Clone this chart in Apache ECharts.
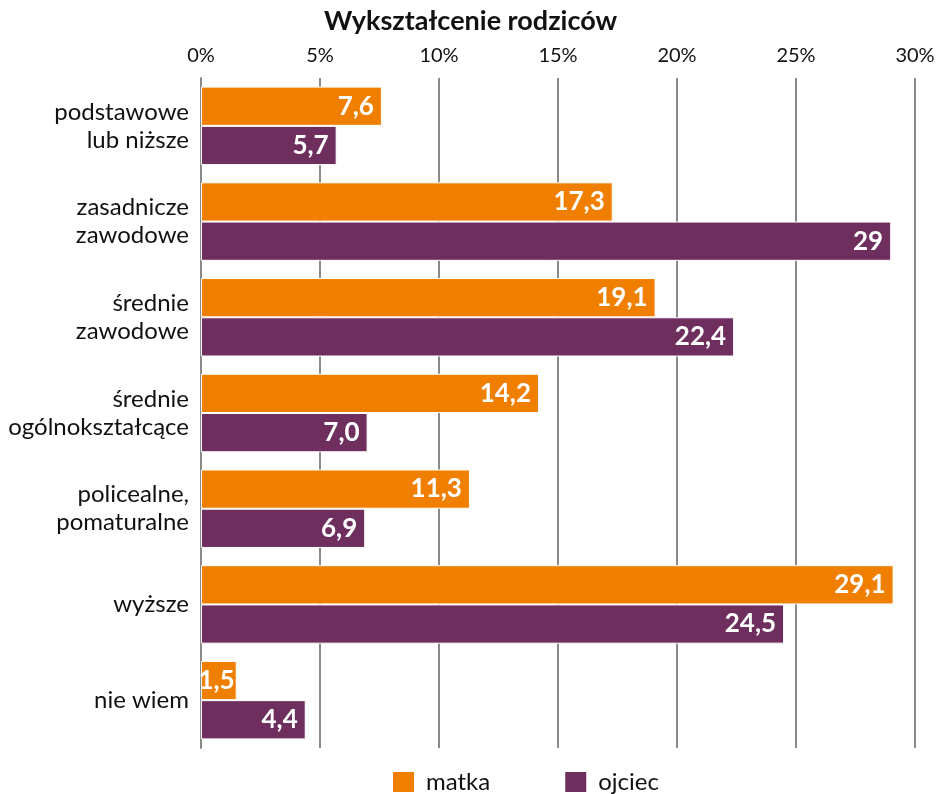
<!DOCTYPE html>
<html>
<head>
<meta charset="utf-8">
<script src="https://cdn.jsdelivr.net/npm/echarts@6/dist/echarts.min.js"></script>
<style>
html,body{margin:0;padding:0;background:#fff;}
#main{width:941px;height:794px;}
</style>
</head>
<body>
<div id="main"></div>
<script>
// dane
var categories = ['podstawowe\nlub niższe', 'zasadnicze\nzawodowe', 'średnie\nzawodowe', 'średnie\nogólnokształcące', 'policealne,\npomaturalne', 'wyższe', 'nie wiem'];
var matka = [7.6, 17.3, 19.1, 14.2, 11.3, 29.1, 1.5];
var ojciec = [5.7, 29, 22.4, 7.0, 6.9, 24.5, 4.4];
var matkaLabels = ['7,6', '17,3', '19,1', '14,2', '11,3', '29,1', '1,5'];
var ojciecLabels = ['5,7', '29', '22,4', '7,0', '6,9', '24,5', '4,4'];

var fontFam = 'Lato, "Open Sans", sans-serif';
var myChart = echarts.init(document.getElementById('main'));

// krotkie slupki - etykieta blizej krawedzi
function barData(arr){
	return arr.map(function(v){
		return v < 3 ? { value: v, label: { distance: 2 } } : v;
	});
}

function barLabel(arr){
	return {
		show: true,
		position: 'insideRight',
		distance: 8,
		color: '#fff',
		fontFamily: fontFam,
		fontWeight: 'bold',
		fontSize: 26,
		formatter: function(p){ return arr[p.dataIndex]; }
	};
}

var option = {
	animation: false,
	title: {
		text: 'Wykształcenie rodziców',
		left: 'center',
		top: 3,
		textStyle: { fontFamily: fontFam, fontWeight: 'bold', fontSize: 27, color: '#111' }
	},
	legend: {
		bottom: -5,
		left: 386,
		itemWidth: 23,
		itemHeight: 22,
		itemGap: 73,
		icon: 'rect',
		textStyle: { fontFamily: fontFam, fontSize: 24, color: '#111', padding: [0, 0, 0, 6] },
		data: ['matka', 'ojciec']
	},
	grid: { left: 201, right: 26, top: 78, bottom: 46 },
	xAxis: {
		type: 'value',
		position: 'top',
		min: 0,
		max: 30,
		interval: 5,
		axisLabel: {
			formatter: '{value}%',
			fontFamily: fontFam,
			fontSize: 20,
			color: '#111',
			margin: 12
		},
		axisLine: { show: false },
		axisTick: { show: false },
		splitLine: { lineStyle: { color: '#8a8a8a', width: 2 } }
	},
	yAxis: {
		type: 'category',
		inverse: true,
		data: categories,
		axisLabel: {
			fontFamily: fontFam,
			fontSize: 24,
			color: '#111',
			lineHeight: 28,
			margin: 12
		},
		axisLine: { show: true, lineStyle: { color: '#8a8a8a', width: 2 } },
		axisTick: { show: false }
	},
	series: [
		{
			name: 'matka',
			type: 'bar',
			data: barData(matka),
			barGap: '0%',
			barCategoryGap: '18%',
			itemStyle: { color: '#F07F00', borderColor: '#fff', borderWidth: 1 },
			label: barLabel(matkaLabels)
		},
		{
			name: 'ojciec',
			type: 'bar',
			data: barData(ojciec),
			itemStyle: { color: '#6E2F5F', borderColor: '#fff', borderWidth: 1 },
			label: barLabel(ojciecLabels)
		}
	]
};
myChart.setOption(option);
</script>
</body>
</html>
